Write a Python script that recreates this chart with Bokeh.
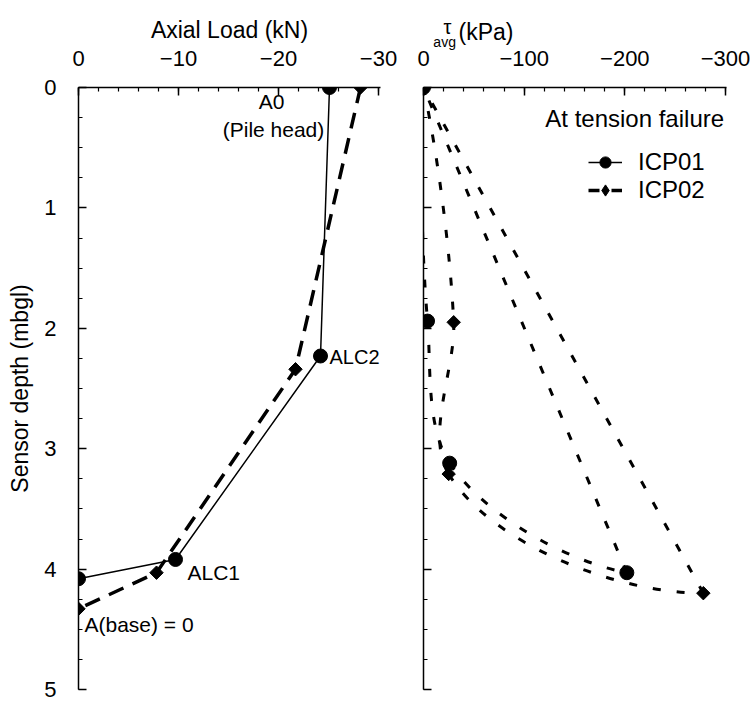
import numpy as np
from bokeh.plotting import figure
from bokeh.models import Range1d, FixedTicker, Label, Legend, LegendItem
from bokeh.layouts import row
from bokeh.embed import file_html
from bokeh.resources import INLINE

# ---------------- data ----------------
# Left panel: axial load (kN) vs sensor depth (m)
load01_depth = [0.0, 2.23, 3.92, 4.08]
load01 = [-25.1, -24.2, -9.7, 0.0]
load02_depth = [0.0, 2.34, 4.03, 4.33]
load02 = [-28.2, -21.7, -7.8, 0.0]

# Right panel: average shaft shear stress (kPa) vs depth (m)
tau01_depth = [0.0, 1.94, 3.12, 4.03]
tau01 = [0.0, -4.0, -26.0, -202.0]
tau02_depth = [0.0, 1.95, 3.21, 4.20]
tau02 = [0.0, -30.0, -25.0, -278.0]

load_ticks = [0, -10, -20, -30]
load_minor = list(range(0, -31, -2))
tau_ticks = [0, -100, -200, -300]
tau_minor = list(range(0, -301, -20))
depth_ticks = [0, 1, 2, 3, 4, 5]
depth_minor = [i * 0.25 for i in range(21)]

series_names = ["ICP01", "ICP02"]
annotations = [("A0", -19.3, 0.12, "center", "21px"),
               ("(Pile head)", -19.5, 0.35, "center", "21px"),
               ("ALC2", -25.1, 2.24, "left", "20px"),
               ("ALC1", -10.9, 4.03, "left", "21px"),
               ("A(base) = 0", -0.6, 4.46, "left", "21px")]

FONT = "Liberation Sans"
TOP, FRAME_H, BOT = 87, 602, 13


def style_axes(p):
    p.outline_line_color = None
    p.grid.visible = False
    for ax in (p.xaxis[0], p.yaxis[0]):
        ax.axis_line_width = 1.5
        ax.major_tick_in = 8
        ax.major_tick_out = 0
        ax.minor_tick_in = 4
        ax.minor_tick_out = 0
        ax.major_tick_line_width = 1.5
        ax.minor_tick_line_width = 1.2
        ax.major_label_text_font = FONT
        ax.major_label_text_font_size = "22px"
        ax.major_label_text_color = "black"
        ax.axis_label_text_font = FONT
        ax.axis_label_text_font_size = "23px"
        ax.axis_label_text_font_style = "normal"
        ax.axis_label_text_color = "black"
    p.xaxis.major_label_standoff = 22
    p.xaxis.axis_label_standoff = 5
    p.yaxis.ticker = FixedTicker(ticks=depth_ticks, minor_ticks=depth_minor)


def unit(v):
    return v / np.linalg.norm(v)


def smooth(xs, ys, sx, sy, k=0.3):
    """Bezier control points for a smooth curve through the data points."""
    P = np.column_stack([np.asarray(xs, float) * sx, np.asarray(ys, float) * sy])
    n = len(P)
    T = [None] * n
    for i in range(1, n - 1):
        T[i] = unit(unit(P[i] - P[i - 1]) + unit(P[i + 1] - P[i]))
    T[0] = unit(2 * unit(P[1] - P[0]) - T[1])
    T[-1] = unit(2 * unit(P[-1] - P[-2]) - T[-2])
    out = {key: [] for key in ("x0", "y0", "x1", "y1", "cx0", "cy0", "cx1", "cy1")}
    for i in range(n - 1):
        L = np.linalg.norm(P[i + 1] - P[i])
        c0 = P[i] + T[i] * L * k
        c1 = P[i + 1] - T[i + 1] * L * k
        out["x0"].append(P[i][0] / sx); out["y0"].append(P[i][1] / sy)
        out["x1"].append(P[i + 1][0] / sx); out["y1"].append(P[i + 1][1] / sy)
        out["cx0"].append(c0[0] / sx); out["cy0"].append(c0[1] / sy)
        out["cx1"].append(c1[0] / sx); out["cy1"].append(c1[1] / sy)
    return out


# ---------------- left panel ----------------
p1 = figure(width=400, height=TOP + FRAME_H + BOT, x_axis_location="above",
            x_range=Range1d(0, -30.2), y_range=Range1d(5, 0),
            min_border_left=78, min_border_right=20, min_border_top=TOP,
            min_border_bottom=BOT, toolbar_location=None, output_backend="svg")
style_axes(p1)
p1.xaxis.ticker = FixedTicker(ticks=load_ticks, minor_ticks=load_minor)
p1.xaxis.axis_label = "Axial Load (kN)"
p1.yaxis.axis_label = "Sensor depth (mbgl)"
p1.yaxis.major_label_standoff = 22
p1.yaxis.axis_label_standoff = 8

p1.line(load01, load01_depth, line_color="black", line_width=1.5)
p1.line(load02, load02_depth, line_color="black", line_width=3.5, line_dash="16 10")
p1.scatter(load02, load02_depth, marker="square", angle=np.pi / 4, size=9.5, color="black")
p1.scatter(load01, load01_depth, marker="circle", size=14, color="black")

for txt, x, y, align, fs in annotations:
    p1.add_layout(Label(x=x, y=y, text=txt, text_align=align, text_baseline="middle",
                        text_font=FONT, text_font_size=fs, text_color="black"))

# ---------------- right panel ----------------
p2 = figure(width=350, height=TOP + FRAME_H + BOT, x_axis_location="above",
            x_range=Range1d(0, -301), y_range=Range1d(5, 0),
            min_border_left=23, min_border_right=24, min_border_top=TOP,
            min_border_bottom=BOT, toolbar_location=None, output_backend="svg")
p2.extra_x_ranges = {"legend_only": Range1d(1000, 2000)}
style_axes(p2)
p2.xaxis.ticker = FixedTicker(ticks=tau_ticks, minor_ticks=tau_minor)
p2.yaxis.major_label_overrides = {t: "" for t in depth_ticks}
p2.yaxis.major_label_standoff = 0

SX, SY = 1.007, 121.0
for tau, dep in ((tau01, tau01_depth), (tau02, tau02_depth)):
    seg = smooth(tau, dep, SX, SY, k=0.3)
    p2.bezier(line_color="black", line_width=3, line_dash="8 16", **seg)
    p2.segment(x0=[tau[-1]], y0=[dep[-1]], x1=[tau[0]], y1=[dep[0]],
               line_color="black", line_width=3, line_dash="8 16")

p2.scatter(tau02[1:], tau02_depth[1:], marker="square", angle=np.pi / 4, size=9.5, color="black")
p2.scatter(tau01, tau01_depth, marker="circle", size=14, color="black")

# axis title with subscript; each piece sits in a side panel with room to spare,
# so that it is drawn outside the (clipped) frame
p2.add_layout(Label(x=-23.8, y=-0.50, text="τ", text_align="center", text_baseline="middle",
                    text_font=FONT, text_font_size="20px", text_color="black"), "left")
p2.add_layout(Label(x=-21, y=-0.38, text="avg", text_align="center", text_baseline="middle",
                    text_font=FONT, text_font_size="14px", text_color="black"), "right")
p2.add_layout(Label(x=-34.8, y=-0.46, text="(kPa)", text_align="left", text_baseline="middle",
                    text_font=FONT, text_font_size="23px", text_color="black"), "above")

p2.add_layout(Label(x=-121, y=0.26, text="At tension failure", text_align="left",
                    text_baseline="middle", text_font=FONT, text_font_size="24px",
                    text_color="black"))

# legend renderers: same series, mapped to a range that is outside the frame
lg1 = p2.line(tau01, tau01_depth, x_range_name="legend_only", line_color="black", line_width=1.5)
mk1 = p2.scatter(tau01, tau01_depth, x_range_name="legend_only", marker="circle", size=14,
                 color="black")
lg2 = p2.line(tau02, tau02_depth, x_range_name="legend_only", line_color="black",
              line_width=3.5, line_dash="11 12")
mk2 = p2.scatter(tau02, tau02_depth, x_range_name="legend_only", marker="diamond",
                 size=15, color="black")
legend = Legend(items=[LegendItem(label=series_names[0], renderers=[lg1, mk1]),
                       LegendItem(label=series_names[1], renderers=[lg2, mk2])],
                location=(165, 485), border_line_color=None, background_fill_alpha=0,
                label_text_font=FONT, label_text_font_size="24px", label_text_color="black",
                glyph_width=34, glyph_height=28, label_height=28, padding=0,
                spacing=0, margin=0, label_standoff=16)
p2.add_layout(legend)

layout = row(p1, p2)
open("out.html", "w").write(file_html(layout, INLINE))
